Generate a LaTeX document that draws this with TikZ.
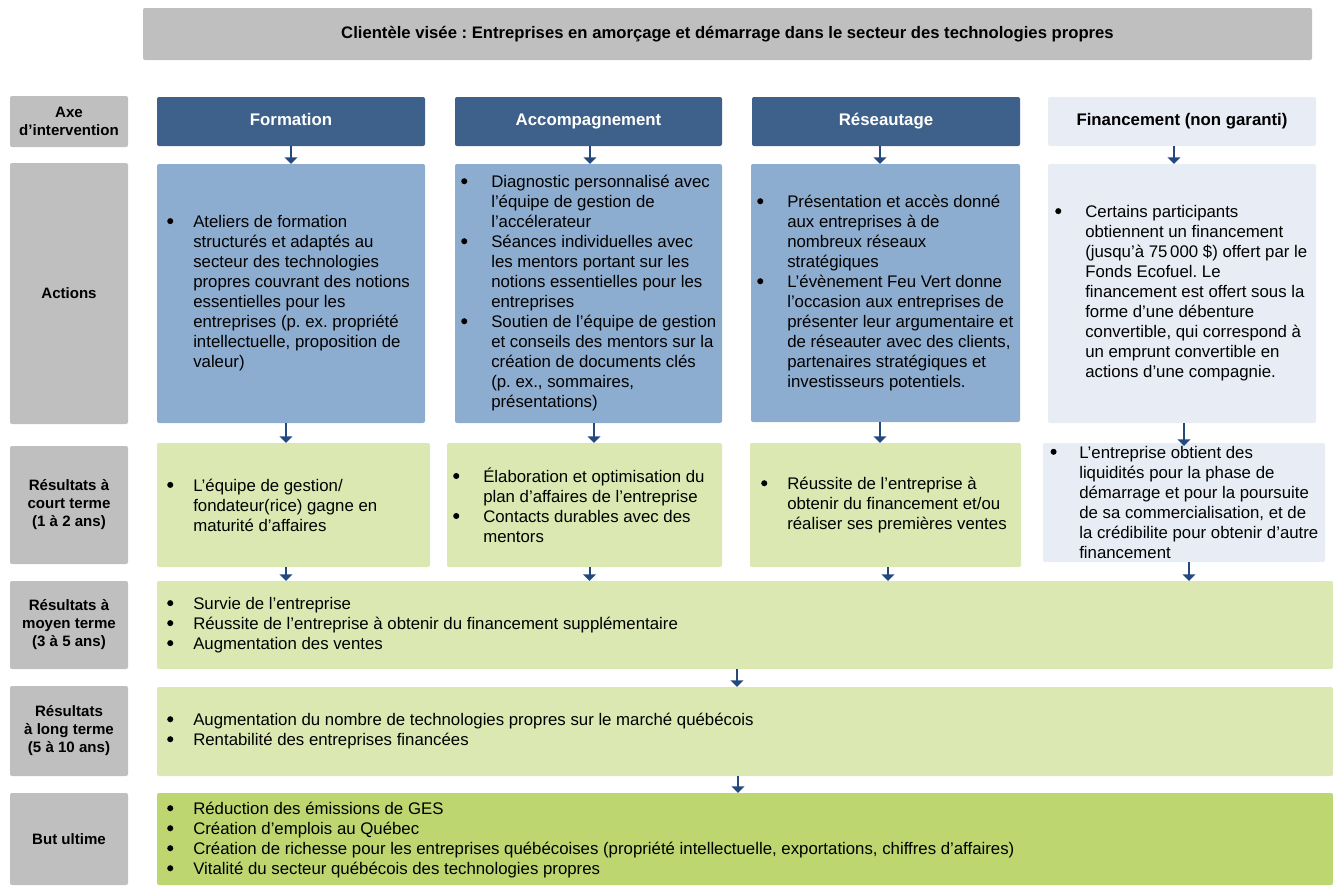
\documentclass[tikz,border=0pt]{standalone}
\usepackage{fontspec}
\setmainfont{Liberation Sans}
\usetikzlibrary{fit,arrows.meta,calc}
\frenchspacing
\definecolor{cGray}{HTML}{BFBFBF}
\definecolor{cHead}{HTML}{3D618B}
\definecolor{cAct}{HTML}{8DADD0}
\definecolor{cFin}{HTML}{E8ECF4}
\definecolor{cGreen}{HTML}{DCE8B1}
\definecolor{cBut}{HTML}{BDD66F}
\definecolor{cArr}{HTML}{24497E}
\newcommand\bl[1]{\llap{\tikz[baseline=0pt]{\fill[black] (0,0.37em) circle[radius=0.18em];}\hspace{#1pt}}}
\tikzset{
  box/.style={inner sep=0pt, outer sep=0pt, rounded corners=1.5pt, draw=none},
  gbox/.style={box, fill=cGray},
  hbox/.style={box, fill=cHead},
  abox/.style={box, fill=cAct},
  fbox/.style={box, fill=cFin},
  lbox/.style={box, fill=cGreen},
  ubox/.style={box, fill=cBut},
  arr/.style={draw=cArr, line width=1.5pt, -{Triangle[width=9.5pt,length=5pt]}},
  lab/.style={font=\fontsize{11.3}{13.5}\selectfont\bfseries, align=center, inner sep=0pt},
  hd/.style={font=\fontsize{12.6}{15}\selectfont\bfseries, inner sep=0pt, text height=9.2pt, text depth=2.6pt},
  txt/.style={font=\fontsize{12.6}{15}\selectfont, align=left, anchor=west, inner sep=0pt},
}
\begin{document}
\begin{tikzpicture}[x=0.75pt,y=-0.75pt]
\useasboundingbox (0,0) rectangle (1333,885);

% banner
\node[gbox, fit={(143,8)(1312,60)}] (top) {};
\node[hd, font=\fontsize{12.5}{14}\selectfont\bfseries] (toptxt) at (top.center) {Clientèle visée : Entreprises en amorçage et démarrage dans le secteur des technologies propres};

% left labels
\node[gbox, fit={(10,96)(128,147)}] (L1) {};
\node[gbox, fit={(10,163)(128,424)}] (L2) {};
\node[gbox, fit={(10,446)(128,564)}] (L3) {};
\node[gbox, fit={(10,581)(128,669)}] (L4) {};
\node[gbox, fit={(10,686)(128,776)}] (L5) {};
\node[gbox, fit={(10,793)(128,885)}] (L6) {};
\node[lab] (L1t) at (L1.center) {Axe\\d’intervention};
\node[lab] (L2t) at (L2.center) {Actions};
\node[lab] (L3t) at (L3.center) {Résultats à\\court terme\\(1 à 2 ans)};
\node[lab] (L4t) at (L4.center) {Résultats à\\moyen terme\\(3 à 5 ans)};
\node[lab] (L5t) at (L5.center) {Résultats\\à long terme\\(5 à 10 ans)};
\node[lab] (L6t) at (L6.center) {But ultime};

% headers
\node[hbox, fit={(157,97)(425,146)}] (h1) {};
\node[hbox, fit={(455,97)(722,146)}] (h2) {};
\node[hbox, fit={(752,97)(1020,146)}] (h3) {};
\node[fbox, fit={(1048,97)(1316,146)}] (h4) {};
\node[hd, text=white] (h1t) at (h1.center) {Formation};
\node[hd, text=white] (h2t) at (h2.center) {Accompagnement};
\node[hd, text=white] (h3t) at (h3.center) {Réseautage};
\node[hd, text=black] (h4t) at (h4.center) {Financement (non garanti)};

% actions
\node[abox, fit={(157,164)(425,423)}] (a1) {};
\node[abox, fit={(455,164)(722,423)}] (a2) {};
\node[abox, fit={(751,164)(1020,422)}] (a3) {};
\node[fbox, fit={(1048,164)(1316,423)}] (a4) {};

\node[txt] (a1t) at (193,293) {\bl{15}Ateliers de formation\\structurés et adaptés au\\secteur des technologies\\propres couvrant des notions\\essentielles pour les\\entreprises (p. ex. propriété\\intellectuelle, proposition de\\valeur)};
\node[txt] (a2t) at (491,293) {\bl{18}Diagnostic personnalisé avec\\l’équipe de gestion de\\l’accélerateur\\\bl{18}Séances individuelles avec\\les mentors portant sur les\\notions essentielles pour les\\entreprises\\\bl{18}Soutien de l’équipe de gestion\\et conseils des mentors sur la\\création de documents clés\\(p. ex., sommaires,\\présentations)};
\node[txt] (a3t) at (787,293) {\bl{18}Présentation et accès donné\\aux entreprises à de\\nombreux réseaux\\stratégiques\\\bl{18}L’évènement Feu Vert donne\\l’occasion aux entreprises de\\présenter leur argumentaire et\\de réseauter avec des clients,\\partenaires stratégiques et\\investisseurs potentiels.};
\node[txt] (a4t) at (1085,293) {\bl{18}Certains participants\\obtiennent un financement\\(jusqu’à 75\,000 \$) offert par le\\Fonds Ecofuel. Le\\financement est offert sous la\\forme d’une débenture\\convertible, qui correspond à\\un emprunt convertible en\\actions d’une compagnie.};

% short term
\node[lbox, fit={(157,443)(430,567)}] (s1) {};
\node[lbox, fit={(447,443)(722,567)}] (s2) {};
\node[lbox, fit={(750,443)(1021,567)}] (s3) {};
\node[fbox, fit={(1043,443)(1325,562)}] (s4) {};
\node[txt] (s1t) at (193,505) {\bl{15}L’équipe de gestion/\\fondateur(rice) gagne en\\maturité d’affaires};
\node[txt] (s2t) at (483,505) {\bl{18}Élaboration et optimisation du\\plan d’affaires de l’entreprise\\\bl{18}Contacts durables avec des\\mentors};
\node[txt] (s3t) at (787,505) {\bl{15}Réussite de l’entreprise à\\obtenir du financement et/ou\\réaliser ses premières ventes};
\node[txt] (s4t) at (1079,502) {\bl{17}L’entreprise obtient des\\liquidités pour la phase de\\démarrage et pour la poursuite\\de sa commercialisation, et de\\la crédibilite pour obtenir d’autre\\financement};

% medium, long, ultimate
\node[lbox, fit={(157,581)(1333,669)}] (m) {};
\node[lbox, fit={(157,687)(1333,776)}] (lg) {};
\node[ubox, fit={(157,793)(1333,885)}] (u) {};
\node[txt] (mt) at (193,625) {\bl{15}Survie de l’entreprise\\\bl{15}Réussite de l’entreprise à obtenir du financement supplémentaire\\\bl{15}Augmentation des ventes};
\node[txt] (lgt) at (193,731) {\bl{15}Augmentation du nombre de technologies propres sur le marché québécois\\\bl{15}Rentabilité des entreprises financées};
\node[txt] (ut) at (193,840) {\bl{15}Réduction des émissions de GES\\\bl{15}Création d’emplois au Québec\\\bl{15}Création de richesse pour les entreprises québécoises (propriété intellectuelle, exportations, chiffres d’affaires)\\\bl{15}Vitalité du secteur québécois des technologies propres};

% arrows header -> actions
\draw[arr] (h1.south) -- (h1.south |- a1.north);
\draw[arr] ($(h2.south)+(1.5,0)$) -- ($(h2.south |- a2.north)+(1.5,0)$);
\draw[arr] ($(h3.south)+(-6,0)$) -- ($(h3.south |- a3.north)+(-6,0)$);
\draw[arr] ($(h4.south)+(-8,0)$) -- ($(h4.south |- a4.north)+(-8,0)$);
% actions -> short term
\draw[arr] ($(a1.south)+(-5,0)$) -- ($(a1.south |- s1.north)+(-5,0)$);
\draw[arr] ($(a2.south)+(5.5,0)$) -- ($(a2.south |- s2.north)+(5.5,0)$);
\draw[arr] ($(a3.south)+(-5.5,0)$) -- ($(a3.south |- s3.north)+(-5.5,0)$);
\draw[arr] ($(a4.south)+(2,0)$) -- ($(a4.south |- s4.north)+(2,3)$);
% short -> medium
\draw[arr] ($(s1.south)+(-7.5,0)$) -- ($(s1.south |- m.north)+(-7.5,0)$);
\draw[arr] ($(s2.south)+(5,0)$) -- ($(s2.south |- m.north)+(5,0)$);
\draw[arr] ($(s3.south)+(2.5,0)$) -- ($(s3.south |- m.north)+(2.5,0)$);
\draw[arr] ($(s4.south)+(5,0)$) -- ($(s4.south |- m.north)+(5,0)$);
% medium -> long -> ultimate
\draw[arr] ($(m.south)+(-8,0)$) -- ($(m.south |- lg.north)+(-8,0)$);
\draw[arr] ($(lg.south)+(-7,0)$) -- ($(lg.south |- u.north)+(-7,0)$);
\end{tikzpicture}
\end{document}
